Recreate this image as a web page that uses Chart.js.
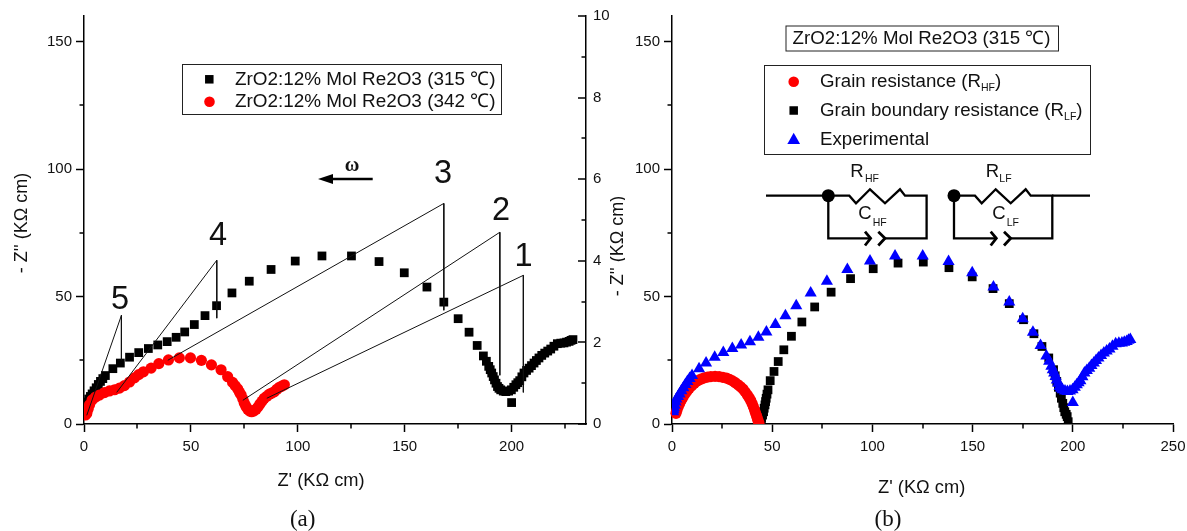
<!DOCTYPE html>
<html><head><meta charset="utf-8">
<script src="https://cdn.jsdelivr.net/npm/chart.js@4"></script>
<style>
html,body{margin:0;padding:0;background:#fff;overflow:hidden}
#wrap{position:relative;width:1187px;height:531px}
canvas{position:absolute;top:0}
</style></head><body>
<div id="wrap">
<canvas id="a" style="left:0;width:625px;height:531px"></canvas>
<canvas id="b" style="left:625px;width:562px;height:531px"></canvas>
</div>
<script>
// ---- data ----
const sampleX315 = [0.6,0.8,1,1.4,1.8,2.2,3,3.8,4.7,5.7,6.7,7.7,8.8,10,13.5,17,21.3,25.6,30.1,34.5,38.9,43.1,47.1,51.6,56.6,62,69.2,77.3,87.5,98.8,111.3,125.1,138,149.8,160.4,168.3,175,180.1,183.9,186.8,188.2,189.3,190,190.7,191.4,192,192.7,193.4,194.1,194.9,196.1,197.3,198.6,199.9,200,201,202,202.9,203.8,204.8,205.8,207,208.2,209.3,210.5,211.6,212.8,214.1,215.5,216.9,218.3,219.8,221.4,223,224.5,225.7,226.9,227.8,228.7];
const sampleY315 = [4.8,5.6,6.4,7.4,8.6,9.8,10.8,11.8,13,14.2,15.5,16.7,17.8,19,21.7,23.9,26.2,28,29.6,31,32.3,34,36.1,39,42.5,46.4,51.4,56,60.6,63.9,65.9,65.9,63.7,59.3,53.7,47.8,41.3,36,30.8,26.7,24.6,22.6,21.3,20,18.6,17.3,16,14.7,14,13.4,12.9,12.7,12.9,13.4,8.4,14.4,15.4,16.2,17,18.5,20,21,21.9,22.9,23.9,24.9,25.9,26.9,27.8,28.6,29.4,30.5,31.5,31.7,31.8,32.1,32.4,32.8,33.1];
const sampleX342 = [0.7,1.3,1.9,2.6,3.8,5.4,7.2,9.6,11.9,14.3,16.6,18.9,21.3,23.6,25.6,27.8,31.4,35,39.5,44.6,49.8,54.9,59.6,64.1,67.2,69.5,70.7,71.9,72.7,73.5,74.3,75,75.8,76.6,77.5,78.4,79.4,80.5,81.4,82.3,83.3,84.3,85.5,86.7,87.9,89,90.2,91.4,92.6,93.7];
const sampleY342 = [0.22,0.26,0.36,0.47,0.59,0.66,0.71,0.77,0.81,0.84,0.88,0.94,1.03,1.13,1.21,1.28,1.37,1.48,1.57,1.62,1.62,1.56,1.45,1.33,1.16,1.02,0.94,0.86,0.78,0.71,0.61,0.51,0.43,0.36,0.32,0.30,0.32,0.36,0.42,0.49,0.56,0.63,0.68,0.73,0.76,0.79,0.85,0.90,0.93,0.96];
const grainX = [2,2.5,3.1,3.8,4.5,5.5,6.5,7.5,8.6,9.8,11.1,12.3,13.6,14.8,16.1,17.7,19.4,21.5,23.5,25.4,27.2,28.7,30.2,31.6,33,34.2,35.4,36.5,37.6,38.5,39.3,40,40.6,41.2,41.7,42.2,42.6,43,43.4];
const grainY = [4.2,5.5,6.8,8,9.2,10.5,11.8,12.9,14,15,16,16.7,17.3,17.7,18.1,18.4,18.6,18.7,18.6,18.3,18,17.5,16.9,16.2,15.4,14.6,13.7,12.6,11.4,10.3,9.2,8,6.8,5.5,4.2,3.2,2.2,1.2,0.3];
const boundaryX = [43.9,44.3,44.7,45.2,45.7,46,46.4,46.7,47,47.4,47.9,49,50.9,53,55.8,59.6,64.8,71.2,79.4,89.1,100.4,112.8,125.4,138.2,149.8,160.2,168.3,175.4,180.6,184.6,188,190.4,191.2,192,192.8,193.7,194.3,195,195.5,196,196.7,197.2,197.7];
const boundaryY = [0.3,1.2,2.2,3.5,4.8,6.2,7.5,8.8,10.1,11.7,13.4,17,20.6,24.5,29.1,34.4,40,45.9,51.7,57,60.9,63.1,63.5,61.3,57.7,53.1,47.2,40.9,35.4,30.4,25.9,21.3,18.9,16.7,14.4,12.1,10.1,8.1,6.4,4.8,3.8,2.9,0.9];
const leaderPoints = {
  '1':[[85.5,10.1],[205.5,58.3],[205.5,12.4]],
  '2':[[74.3,9.3],[194.5,75.2],[194.5,19.1]],
  '3':[[39.2,25],[168.3,86.5],[168.3,44.6]],
  '4':[[15.3,12.4],[62.1,64.2],[62.1,41.5]],
  '5':[[1.3,3.4],[17.5,42.6],[17.5,25]]
};
const leftTicksMinor = [25,75,125];
const rightTicksMinor = [1,3,5,7,9];
const rightTicksMajor = [0,2,4,6,8,10];
const xMinorA = [25,75,125,175,225];
const xMinorB = [25,75,125,175,225];
const legendA = ['ZrO2:12% Mol Re2O3 (315 ℃)','ZrO2:12% Mol Re2O3 (342 ℃)'];
const legendB = ['Grain resistance (R','Grain boundary resistance (R','Experimental'];
const axisX = "Z' (KΩ cm)", axisY = "- Z'' (KΩ cm)";

// ---- helpers ----
const SANS = '"Liberation Sans", Arial, sans-serif';
const SERIF = '"Liberation Serif", "Times New Roman", serif';
const INK = '#111';
const zip = (xs, ys) => xs.map((x, i) => ({x, y: ys[i]}));

function text(ctx, s, x, y, size, opt) {
  opt = opt || {};
  ctx.save();
  ctx.font = (opt.weight ? opt.weight + ' ' : '') + size + 'px ' + (opt.family || SANS);
  ctx.fillStyle = INK;
  ctx.textAlign = opt.align || 'left';
  ctx.textBaseline = 'middle';
  if (opt.rot) { ctx.translate(x, y); ctx.rotate(opt.rot); ctx.fillText(s, 0, 0); }
  else ctx.fillText(s, x, y);
  ctx.restore();
}
function path(ctx, pts, w) {
  ctx.beginPath();
  pts.forEach((p, i) => i ? ctx.lineTo(p[0], p[1]) : ctx.moveTo(p[0], p[1]));
  ctx.lineWidth = w; ctx.strokeStyle = '#000'; ctx.lineJoin = 'miter'; ctx.stroke();
}
function box(ctx, x0, y0, x1, y1) {
  ctx.save(); ctx.lineWidth = 1; ctx.strokeStyle = '#222';
  ctx.strokeRect(x0 + .5, y0 + .5, x1 - x0, y1 - y0); ctx.restore();
}
function square(ctx, x, y, s) { ctx.fillStyle = '#000'; ctx.fillRect(x - s / 2, y - s / 2, s, s); }
function dot(ctx, x, y, r) { ctx.fillStyle = '#f00'; ctx.beginPath(); ctx.arc(x, y, r, 0, 7); ctx.fill(); }
function tri(ctx, x, y, w) {
  ctx.fillStyle = '#00f'; ctx.beginPath();
  ctx.moveTo(x, y - w * .5); ctx.lineTo(x + w / 2, y + w * .4); ctx.lineTo(x - w / 2, y + w * .4); ctx.closePath(); ctx.fill();
}
function minorTicks(ctx, scale, vals, len) {
  ctx.save(); ctx.lineWidth = 1.5; ctx.strokeStyle = '#000';
  vals.forEach(v => {
    const p = Math.round(scale.getPixelForValue(v));
    ctx.beginPath();
    if (scale.isHorizontal()) { ctx.moveTo(p, scale.top); ctx.lineTo(p, scale.top + len); }
    else { const e = scale.position === 'left' ? scale.right : scale.left; ctx.moveTo(e, p); ctx.lineTo(e - len, p); }
    ctx.stroke();
  });
  ctx.restore();
}
function fitBox(w, h) {
  return s => {
    if (w) s.width = w;
    if (h) s.height = h;
    s.paddingLeft = s.paddingRight = s.paddingTop = s.paddingBottom = 0;
  };
}
function baseScale(extra) {
  return Object.assign({
    type: 'linear',
    grid: {drawOnChartArea: false, tickLength: 8, tickWidth: 1.5, tickColor: '#000'},
    border: {display: true, color: '#000', width: 1.5},
  }, extra);
}
const tickFont = {family: SANS, size: 15};

// ---- panel a ----
const annotA = {
  id: 'annotA',
  afterDraw(c) {
    const ctx = c.ctx, sx = c.scales.x, sl = c.scales.y, sr = c.scales.yr;
    minorTicks(ctx, sx, xMinorA, 4.5);
    minorTicks(ctx, sl, leftTicksMinor, 4.5);
    minorTicks(ctx, sr, rightTicksMinor, 4.5);
    minorTicks(ctx, sr, rightTicksMajor, 8);
    box(ctx, 182, 64, 501, 114);
    square(ctx, 209.3, 79.3, 8.5); dot(ctx, 209.5, 101.7, 5.3);
    text(ctx, legendA[0], 235, 79.5, 18.9);
    text(ctx, legendA[1], 235, 102, 18.9);
    text(ctx, axisX, 321, 481, 18.3, {align: 'center'});
    text(ctx, axisY, 22, 223, 18, {align: 'center', rot: -Math.PI / 2});
    text(ctx, axisY, 618, 246, 18, {align: 'center', rot: -Math.PI / 2});
    text(ctx, '(a)', 302.7, 520, 23, {align: 'center', family: SERIF});
    [['1', 523.5, 257], ['2', 501, 211], ['3', 443, 174], ['4', 218, 236], ['5', 120, 300]]
      .forEach(t => text(ctx, t[0], t[1], t[2], 32.5, {align: 'center'}));
    text(ctx, 'ω', 352, 166, 20, {align: 'center', family: SERIF, weight: 'bold'});
    path(ctx, [[372.7, 179], [330, 179]], 2.4);
    ctx.fillStyle = '#000'; ctx.beginPath();
    ctx.moveTo(318, 179); ctx.lineTo(333, 174); ctx.lineTo(333, 184); ctx.closePath(); ctx.fill();
  }
};
const leaderSets = Object.keys(leaderPoints).map(k => ({
  label: 'leader ' + k,
  data: leaderPoints[k].map(p => ({x: p[0], y: p[1]})),
  showLine: true, borderColor: '#111', borderWidth: 1, pointRadius: 0, yAxisID: 'y'
}));
new Chart(document.getElementById('a'), {
  type: 'scatter',
  data: {datasets: [
    ...leaderSets,
    {label: legendA[1], data: zip(sampleX342, sampleY342), yAxisID: 'yr', pointStyle: 'circle', pointRadius: 5.6, backgroundColor: '#f00', borderWidth: 0},
    {label: legendA[0], data: zip(sampleX315, sampleY315), yAxisID: 'y', pointStyle: 'rect', pointRadius: 6.2, backgroundColor: '#000', borderWidth: 0}
  ]},
  options: {
    responsive: false, animation: false, devicePixelRatio: 1,
    layout: {padding: {top: 16, left: 0, right: 0, bottom: 0}},
    plugins: {legend: {display: false}, tooltip: {enabled: false}},
    scales: {
      x: baseScale({position: 'bottom', min: 0, max: 234.8, afterFit: fitBox(0, 107),
        ticks: {stepSize: 50, includeBounds: false, maxRotation: 0, padding: 6, color: INK, font: tickFont, autoSkip: false}}),
      y: baseScale({position: 'left', min: 0, max: 160, afterFit: fitBox(84, 0),
        ticks: {stepSize: 50, includeBounds: false, padding: 4, color: INK, font: tickFont}}),
      yr: baseScale({position: 'right', min: 0, max: 10, afterFit: fitBox(39, 0),
        grid: {drawOnChartArea: false, drawTicks: false},
        ticks: {stepSize: 2, padding: 7, color: INK, font: tickFont}})
    }
  },
  plugins: [annotA]
});

// ---- panel b ----
const OX = 625;
function circuit(ctx, nx) {
  const m = 195.7, b = 238.3, x = nx - OX;
  path(ctx, [[x, m], [x + 21, m], [x + 27.7, 203.3], [x + 41.7, 189.3], [x + 56.7, 203.3], [x + 71.7, 189.3], [x + 76.7, m], [x + 98.3, m], [x + 98.3, b], [x + 56.7, b]], 2.3);
  path(ctx, [[x, m], [x, b], [x + 42, b]], 2.3);
  path(ctx, [[x + 36.7, 231.7], [x + 42.3, b], [x + 36.7, 245.5]], 2.8);
  path(ctx, [[x + 50, 231.7], [x + 56.7, b], [x + 50, 245.5]], 2.8);
  ctx.fillStyle = '#000'; ctx.beginPath(); ctx.arc(x, m, 6.5, 0, 7); ctx.fill();
}
const annotB = {
  id: 'annotB',
  afterDraw(c) {
    const ctx = c.ctx, sx = c.scales.x, sl = c.scales.y;
    minorTicks(ctx, sx, xMinorB, 4.5);
    minorTicks(ctx, sl, leftTicksMinor, 4.5);
    box(ctx, 785.5 - OX, 25.5, 1058 - OX, 50.5);
    text(ctx, legendA[0], 921.5 - OX, 38.5, 18.7, {align: 'center'});
    box(ctx, 764 - OX, 65, 1090 - OX, 154);
    dot(ctx, 793.7 - OX, 81.7, 5.3); square(ctx, 793.7 - OX, 110.5, 8.5); tri(ctx, 793.7 - OX, 139, 12.7);
    const tx = 820 - OX;
    [[legendB[0], 82, 'HF'], [legendB[1], 111, 'LF']].forEach(r => {
      text(ctx, r[0], tx, r[1], 18.7);
      ctx.font = '18.7px ' + SANS;
      const w = ctx.measureText(r[0]).width;
      text(ctx, r[2], tx + w, r[1] + 6, 10.5);
      ctx.font = '10.5px ' + SANS;
      const w2 = ctx.measureText(r[2]).width;
      text(ctx, ')', tx + w + w2, r[1], 18.7);
    });
    text(ctx, legendB[2], tx, 139.5, 18.7);
    text(ctx, axisX, 921.7 - OX, 488, 18.3, {align: 'center'});
    text(ctx, '(b)', 888 - OX, 520, 23, {align: 'center', family: SERIF});
    // equivalent circuit
    path(ctx, [[766 - OX, 195.7], [828.3 - OX, 195.7]], 2.3);
    path(ctx, [[1052 - OX, 195.7], [1090 - OX, 195.7]], 2.3);
    circuit(ctx, 828.3); circuit(ctx, 954);
    [['R', 857, 171.5, 'HF', 865, 8], ['R', 992.5, 171.5, 'LF', 999.3, 8], ['C', 865, 214, 'HF', 872.7, 9], ['C', 999, 214, 'LF', 1006.7, 9]]
      .forEach(t => {
        text(ctx, t[0], t[1] - OX, t[2], 18.5, {align: 'center'});
        text(ctx, t[3], t[4] - OX, t[2] + t[5], 10.5);
      });
  }
};
new Chart(document.getElementById('b'), {
  type: 'scatter',
  data: {datasets: [
    {label: 'Experimental', data: zip(sampleX315, sampleY315), pointStyle: 'triangle', pointRadius: 7, backgroundColor: '#00f', borderWidth: 0},
    {label: 'Grain resistance', data: zip(grainX, grainY), pointStyle: 'circle', pointRadius: 5.6, backgroundColor: '#f00', borderWidth: 0, clip: {left: 8, right: 8, top: 8, bottom: 0}},
    {label: 'Grain boundary resistance', data: zip(boundaryX, boundaryY), pointStyle: 'rect', pointRadius: 6.2, backgroundColor: '#000', borderWidth: 0, clip: {left: 8, right: 8, top: 8, bottom: 0}}
  ]},
  options: {
    responsive: false, animation: false, devicePixelRatio: 1,
    layout: {padding: {top: 16, left: 0, right: 14, bottom: 0}},
    plugins: {legend: {display: false}, tooltip: {enabled: false}},
    scales: {
      x: baseScale({position: 'bottom', min: 0, max: 250, afterFit: fitBox(0, 107),
        ticks: {stepSize: 50, maxRotation: 0, padding: 6, color: INK, font: tickFont, autoSkip: false}}),
      y: baseScale({position: 'left', min: 0, max: 160, afterFit: fitBox(47, 0),
        ticks: {stepSize: 50, includeBounds: false, padding: 4, color: INK, font: tickFont}})
    }
  },
  plugins: [annotB]
});
</script>
</body></html>
